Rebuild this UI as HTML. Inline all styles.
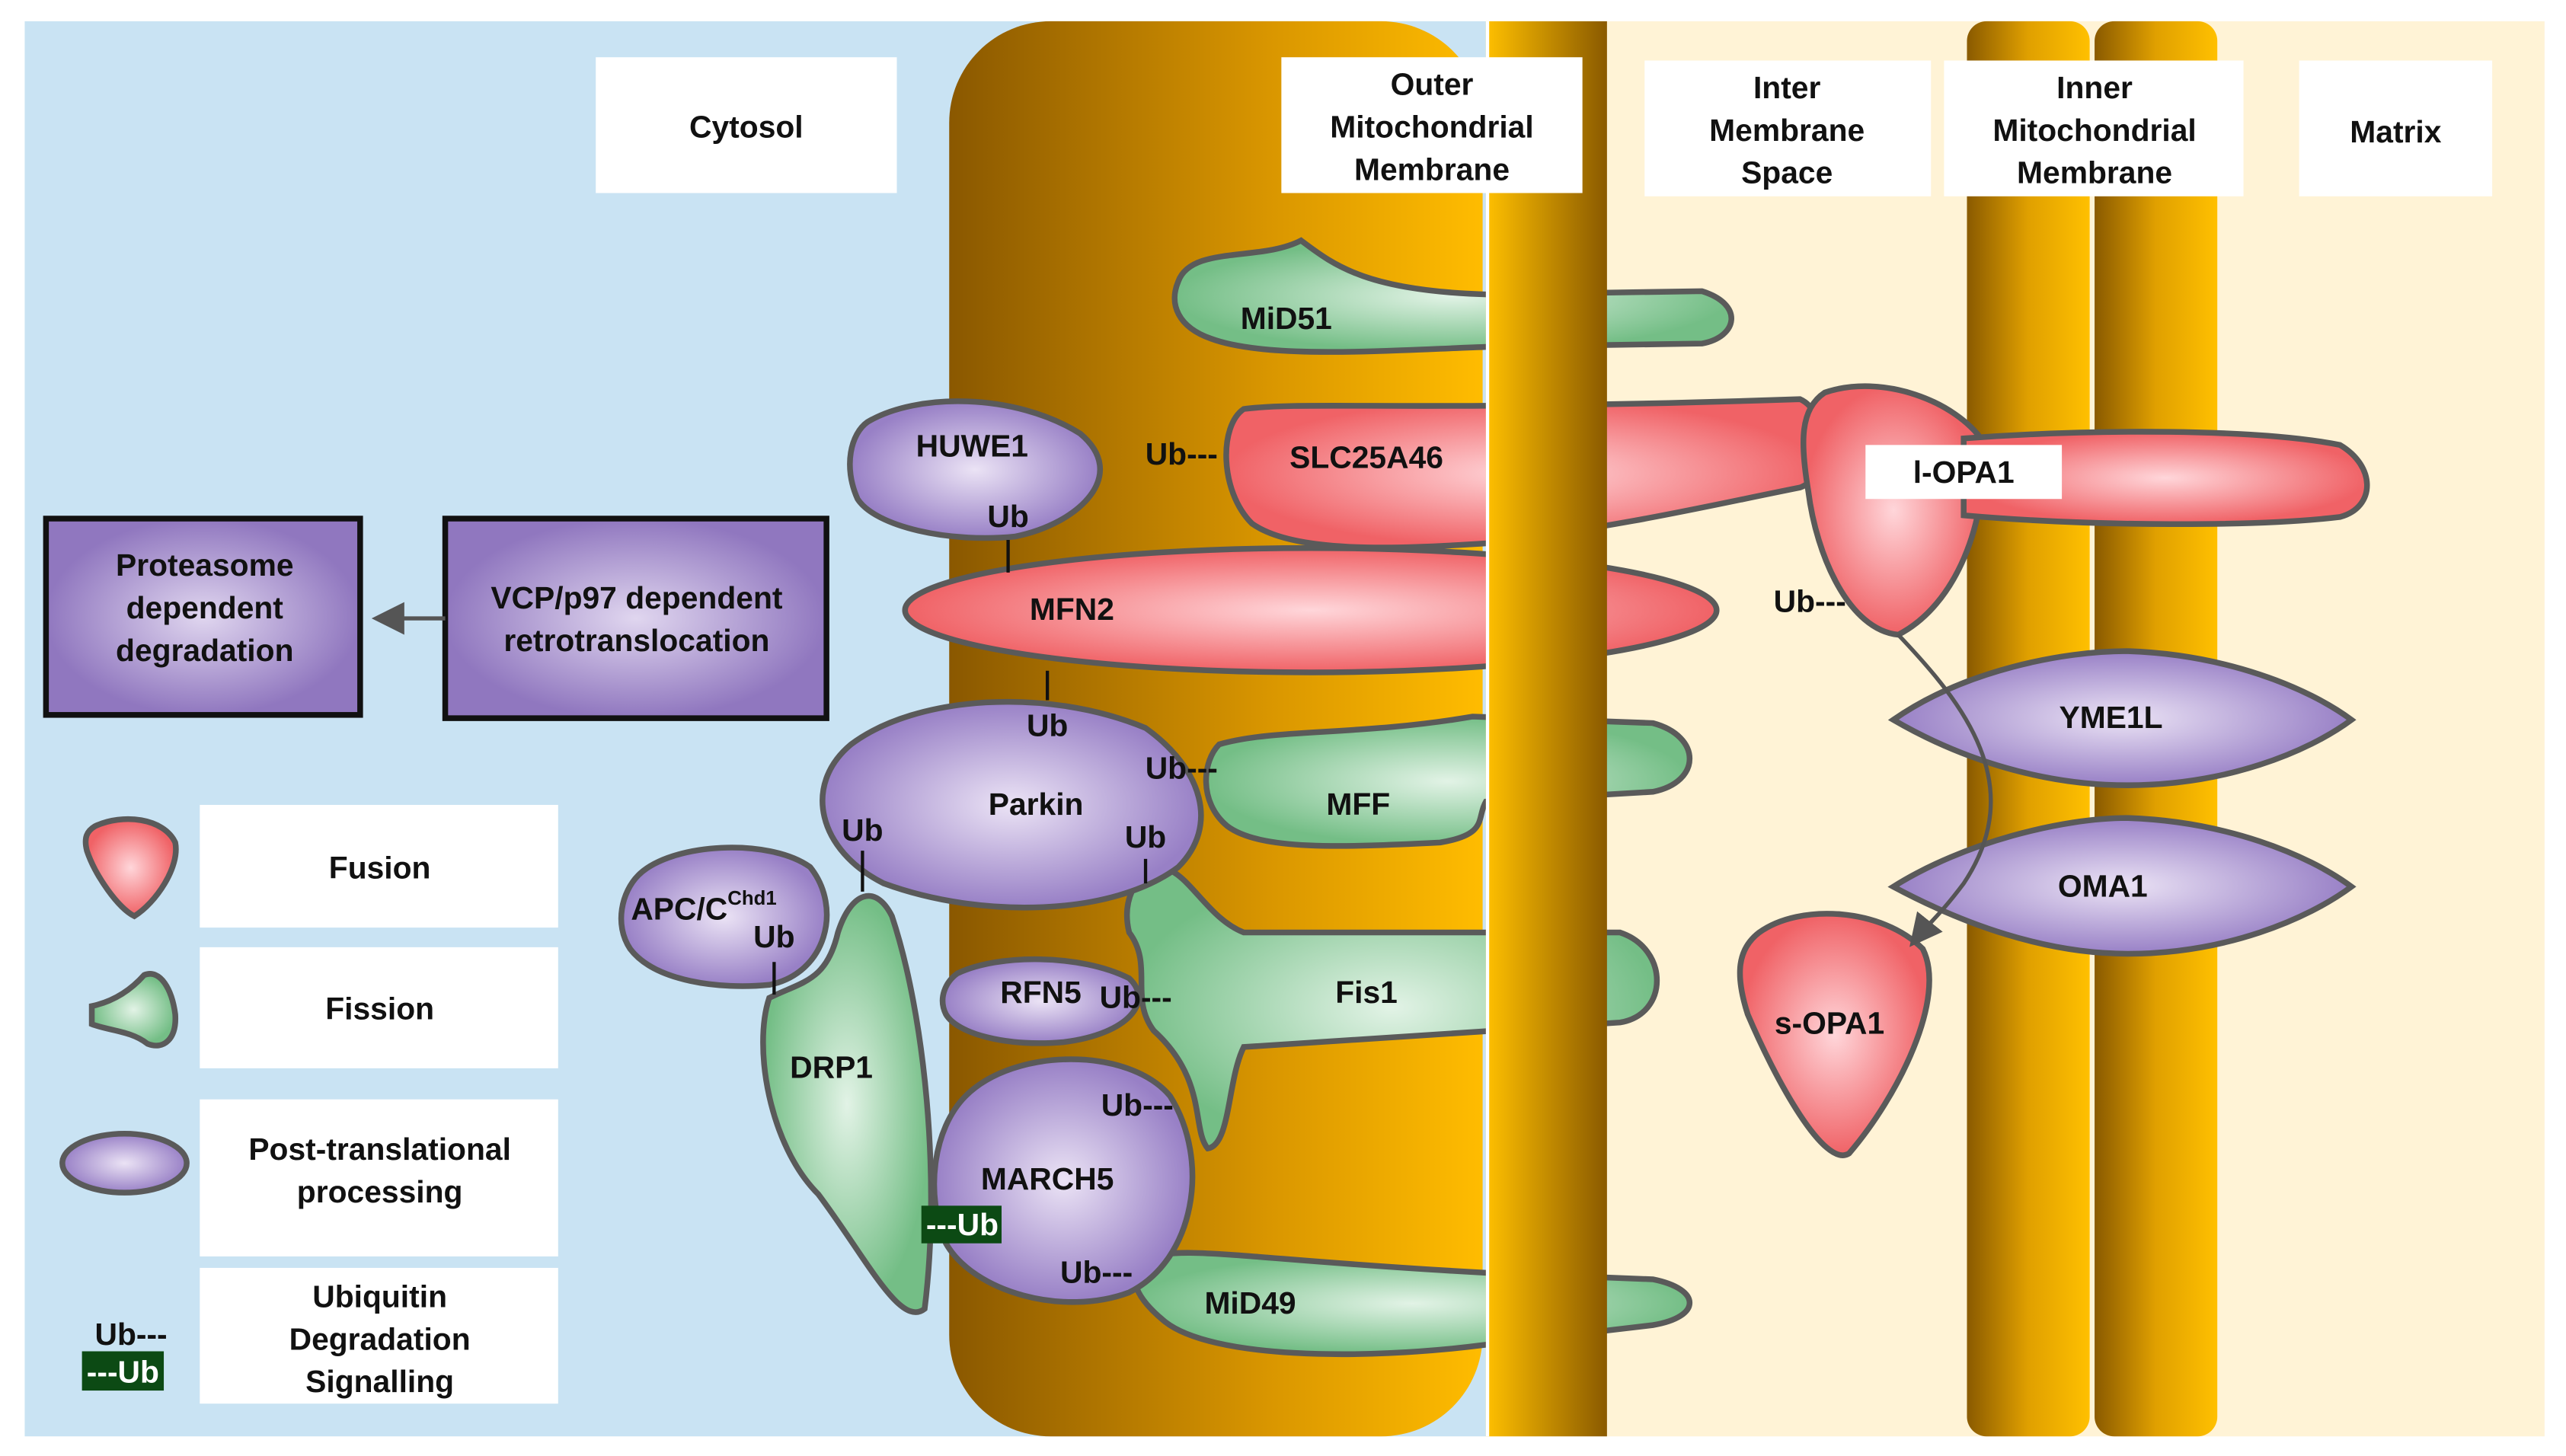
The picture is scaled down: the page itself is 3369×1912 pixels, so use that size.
<!DOCTYPE html>
<html><head><meta charset="utf-8"><style>
html,body{margin:0;padding:0;background:#fff}
svg{display:block}
text{font-family:"Liberation Sans",sans-serif;font-weight:bold;fill:#111}
</style></head><body>
<svg width="3369" height="1912" viewBox="0 0 1568 890" xmlns="http://www.w3.org/2000/svg">
<defs>
<linearGradient id="brown" x1="0" x2="1" y1="0" y2="0"><stop offset="0" stop-color="#8a5800"/><stop offset="0.6" stop-color="#d99600"/><stop offset="1" stop-color="#ffbc00"/></linearGradient>
<linearGradient id="omm" x1="0" x2="1"><stop offset="0" stop-color="#ffc000"/><stop offset="1" stop-color="#8a5a00"/></linearGradient>
<linearGradient id="imm" x1="0" x2="1"><stop offset="0" stop-color="#8a5a00"/><stop offset="0.5" stop-color="#e0a000"/><stop offset="1" stop-color="#ffc000"/></linearGradient>
<radialGradient id="gr"><stop offset="0" stop-color="#e2f3e6"/><stop offset="1" stop-color="#74be86"/></radialGradient>
<radialGradient id="rd"><stop offset="0" stop-color="#ffd6da"/><stop offset="1" stop-color="#f06266"/></radialGradient>
<radialGradient id="pu"><stop offset="0" stop-color="#ebe3f5"/><stop offset="1" stop-color="#9880c6"/></radialGradient>
<marker id="ah" markerWidth="8" markerHeight="8" refX="6" refY="4" orient="auto"><path d="M0,0 L8,4 L0,8 Z" fill="#555"/></marker>
</defs>
<g stroke="#5a5a5a" stroke-width="3.5">
<rect x="15" y="13" width="893" height="865" fill="#c9e3f3" stroke="none"/>
<rect x="908" y="13" width="647" height="865" fill="#fff3d6" stroke="none"/>
<rect x="580" y="13" width="326" height="865" rx="62" fill="url(#brown)" stroke="none"/>

<!-- OMM shapes -->
<path d="M720,172 C728,150 770,160 795,147 C815,162 835,178 910,180 L1040,178 C1066,186 1062,206 1040,210 L910,212 C850,214 775,220 740,207 C720,200 714,186 720,172 Z" fill="url(#gr)"/>
<path d="M760,250 C800,245 860,252 1100,244 C1118,252 1118,292 1100,298 C1040,310 1000,320 910,332 C850,336 790,338 765,320 C745,300 745,260 760,250 Z" fill="url(#rd)"/>
<ellipse cx="801" cy="373" rx="248" ry="38" fill="url(#rd)"/>
<path d="M745,455 C780,445 830,450 900,438 L1010,442 C1040,450 1040,478 1010,484 L908,490 C902,500 910,510 880,515 C820,518 770,520 750,505 C732,490 735,465 745,455 Z" fill="url(#gr)"/>
<path d="M705,530 C725,528 735,560 760,570 L990,570 C1020,580 1020,620 990,625 L760,640 C750,660 752,700 738,702 C728,690 738,660 705,630 C690,610 705,590 690,570 C685,550 695,535 705,530 Z" fill="url(#gr)"/>
<path d="M700,770 C720,760 760,770 908,778 L1010,782 C1040,788 1040,805 1010,810 L908,822 C830,832 740,830 712,808 C690,790 690,778 700,770 Z" fill="url(#gr)"/>
<path d="M470,610 C490,600 505,600 512,570 C520,545 535,540 545,560 C565,620 575,720 565,800 C550,812 530,770 500,730 C470,700 460,640 470,610 Z" fill="url(#gr)"/>
<path d="M530,258 C560,240 620,240 660,265 C690,290 660,320 620,328 C580,332 535,322 524,305 C515,285 520,265 530,258 Z" fill="url(#pu)"/>
<path d="M520,455 C560,425 640,420 700,445 C735,470 745,505 720,530 C680,560 600,562 540,540 C500,520 490,480 520,455 Z" fill="url(#pu)"/>
<path d="M390,535 C410,515 470,512 495,530 C515,555 505,595 470,602 C440,605 400,600 385,580 C375,565 380,545 390,535 Z" fill="url(#pu)"/>
<path d="M585,595 C610,583 660,583 690,598 C705,612 690,632 650,637 C615,640 585,632 578,620 C573,610 578,600 585,595 Z" fill="url(#pu)"/>
<path d="M590,670 C620,640 690,640 715,670 C740,710 730,770 690,790 C650,805 595,790 578,760 C565,730 570,690 590,670 Z" fill="url(#pu)"/>

<rect x="908" y="13" width="74" height="865" fill="url(#omm)" stroke="none"/>
<line x1="909" y1="13" x2="909" y2="878" stroke="#fff" stroke-width="2"/>
<rect x="1202" y="13" width="75" height="865" rx="12" fill="url(#imm)" stroke="none"/>
<rect x="1280" y="13" width="75" height="865" rx="12" fill="url(#imm)" stroke="none"/>

<!-- IMS shapes -->
<path d="M1115,240 C1150,228 1195,245 1212,270 C1215,320 1195,370 1160,388 C1130,385 1110,340 1105,300 C1100,270 1100,250 1115,240 Z" fill="url(#rd)"/>
<path d="M1200,268 C1280,262 1380,262 1430,272 C1452,285 1452,310 1430,316 C1380,322 1280,322 1200,315 Z" fill="url(#rd)"/>
<path d="M1157,440 C1200,410 1260,398 1300,398 C1360,400 1410,420 1437,440 C1410,460 1360,480 1300,480 C1250,480 1200,465 1157,440 Z" fill="url(#pu)"/>
<path d="M1157,542 C1200,515 1260,500 1300,500 C1360,502 1410,522 1437,542 C1410,562 1360,583 1300,583 C1250,583 1200,565 1157,542 Z" fill="url(#pu)"/>
<path d="M1075,570 C1100,552 1150,555 1175,580 C1190,610 1160,670 1130,705 C1115,715 1085,660 1068,620 C1060,595 1062,580 1075,570 Z" fill="url(#rd)"/>
<path d="M1160,388 C1200,430 1240,480 1200,540 C1185,560 1178,565 1170,575" fill="none" stroke="#555" stroke-width="2.5" marker-end="url(#ah)"/>

<!-- tick lines -->
<g stroke="#111" stroke-width="2">
<line x1="616" y1="330" x2="616" y2="350"/><line x1="640" y1="410" x2="640" y2="428"/>
<line x1="527" y1="520" x2="527" y2="545"/><line x1="700" y1="525" x2="700" y2="540"/>
<line x1="473" y1="588" x2="473" y2="608"/>
</g>

<!-- left boxes -->
<defs><radialGradient id="bx"><stop offset="0" stop-color="#e0d6ef"/><stop offset="1" stop-color="#9077bf"/></radialGradient></defs>
<rect x="28" y="317" width="192" height="120" fill="url(#bx)" stroke="#111"/>
<rect x="272" y="317" width="233" height="122" fill="url(#bx)" stroke="#111"/>
<line x1="272" y1="378" x2="232" y2="378" stroke="#555" stroke-width="2.5" marker-end="url(#ah)"/>

<!-- white label boxes -->
<g fill="#fff" stroke="none">
<rect x="364" y="35" width="184" height="83"/><rect x="783" y="35" width="184" height="83"/>
<rect x="1005" y="37" width="175" height="83"/><rect x="1188" y="37" width="183" height="83"/>
<rect x="1405" y="37" width="118" height="83"/>
<rect x="122" y="492" width="219" height="75"/><rect x="122" y="579" width="219" height="74"/>
<rect x="122" y="672" width="219" height="96"/><rect x="122" y="775" width="219" height="83"/>
<rect x="1140" y="272" width="120" height="33"/>
</g>
<!-- legend icons -->
<path d="M58,505 C75,497 100,500 107,515 C110,530 95,552 82,560 C72,555 58,535 53,520 C51,512 53,508 58,505 Z" fill="url(#rd)"/>
<path d="M56,615 C70,612 80,605 88,596 C98,592 105,605 107,620 C108,635 100,642 90,638 C80,630 66,630 56,626 Z" fill="url(#gr)"/>
<ellipse cx="76" cy="711" rx="38" ry="18" fill="url(#pu)"/>
<rect x="563" y="737" width="49" height="23" fill="#0c4a14" stroke="none"/>
<rect x="50" y="826" width="50" height="24" fill="#0c4a14" stroke="none"/>
</g>

<g font-size="19" text-anchor="middle">
<text x="456" y="84">Cytosol</text>
<text x="875" y="58">Outer</text><text x="875" y="84">Mitochondrial</text><text x="875" y="110">Membrane</text>
<text x="1092" y="60">Inter</text><text x="1092" y="86">Membrane</text><text x="1092" y="112">Space</text>
<text x="1280" y="60">Inner</text><text x="1280" y="86">Mitochondrial</text><text x="1280" y="112">Membrane</text>
<text x="1464" y="87">Matrix</text>
<text x="125" y="352">Proteasome</text><text x="125" y="378">dependent</text><text x="125" y="404">degradation</text>
<text x="389" y="372">VCP/p97 dependent</text><text x="389" y="398">retrotranslocation</text>
<text x="232" y="537">Fusion</text><text x="232" y="623">Fission</text>
<text x="232" y="709">Post-translational</text><text x="232" y="735">processing</text>
<text x="232" y="799">Ubiquitin</text><text x="232" y="825">Degradation</text><text x="232" y="851">Signalling</text>
<text x="80" y="822">Ub---</text><text x="75" y="845" fill="#fff" style="fill:#fff">---Ub</text>
<text x="786" y="201">MiD51</text>
<text x="594" y="279">HUWE1</text><text x="616" y="322">Ub</text>
<text x="722" y="284">Ub---</text><text x="835" y="286">SLC25A46</text>
<text x="655" y="379">MFN2</text><text x="640" y="450">Ub</text>
<text x="633" y="498">Parkin</text><text x="527" y="514">Ub</text><text x="700" y="518">Ub</text><text x="722" y="476">Ub---</text>
<text x="830" y="498">MFF</text>
<text x="430" y="562">APC/C<tspan font-size="12" dy="-9">Chd1</tspan></text><text x="473" y="579">Ub</text>
<text x="508" y="659">DRP1</text>
<text x="636" y="613">RFN5</text><text x="694" y="616">Ub---</text>
<text x="835" y="613">Fis1</text>
<text x="695" y="682">Ub---</text>
<text x="640" y="727">MARCH5</text><text x="588" y="755" style="fill:#fff">---Ub</text>
<text x="670" y="784">Ub---</text><text x="764" y="803">MiD49</text>
<text x="1200" y="295">l-OPA1</text><text x="1106" y="374">Ub---</text>
<text x="1290" y="445">YME1L</text><text x="1285" y="548">OMA1</text>
<text x="1118" y="632">s-OPA1</text>
</g>
</svg>
</body></html>
